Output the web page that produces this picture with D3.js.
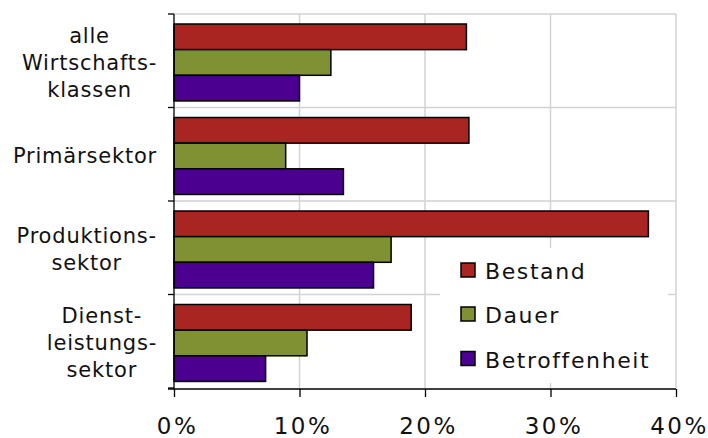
<!DOCTYPE html>
<html>
<head>
<meta charset="utf-8">
<script src="https://cdn.jsdelivr.net/npm/d3@7"></script>
<style>
  html, body { margin: 0; padding: 0; background: #fff; }
  svg { display: block; }
  text { font-family: "DejaVu Sans", Verdana, sans-serif; fill: #111; }
</style>
</head>
<body>
<svg id="chart" width="708" height="438"></svg>
<script>
// ---- data ----
const categories = ["alle Wirtschaftsklassen", "Primärsektor", "Produktionssektor", "Dienstleistungssektor"];
const categoryLines = [["alle", "Wirtschafts-", "klassen"], ["Primärsektor"], ["Produktions-", "sektor"], ["Dienst-", "leistungs-", "sektor"]];
const seriesNames = ["Bestand", "Dauer", "Betroffenheit"];
const bestand = [0.233, 0.235, 0.378, 0.189];
const dauer = [0.125, 0.089, 0.173, 0.106];
const betroffenheit = [0.100, 0.135, 0.159, 0.073];
const seriesColors = ["#a82522", "#7f9132", "#4b0090"];
const xTicks = [0, 0.1, 0.2, 0.3, 0.4];
const xTickLabels = ["0%", "10%", "20%", "30%", "40%"];

const seriesValues = [bestand, dauer, betroffenheit];

// ---- layout ----
const svg = d3.select("#chart");
const mLeft = 174, mRight = 676, mTop = 14, mBottom = 388;

const x = d3.scaleLinear().domain([0, 0.4]).range([mLeft, mRight]);
const y0 = d3.scaleBand().domain(categories).range([mTop, mBottom]).padding(0);
const step = y0.step();
const y1 = d3.scaleBand().domain(seriesNames).range([step * 0.107, step * 0.93]).padding(0);

// gridlines
const grid = svg.append("g");
grid.selectAll("line.v").data(xTicks.slice(1)).join("line")
  .attr("x1", d => x(d)).attr("x2", d => x(d))
  .attr("y1", mTop).attr("y2", mBottom)
  .attr("stroke", "#d2d2d2").attr("stroke-width", 1.5);
grid.selectAll("line.h").data(categories).join("line")
  .attr("x1", mLeft).attr("x2", mRight)
  .attr("y1", d => y0(d)).attr("y2", d => y0(d))
  .attr("stroke", "#d2d2d2").attr("stroke-width", 1.5);

// legend background (covers gridlines)
const legend = svg.append("g");
legend.append("rect").attr("x", 440).attr("y", 248).attr("width", 228).attr("height", 135).attr("fill", "#fff");

// bars
const groups = svg.append("g").selectAll("g").data(categories).join("g")
  .attr("transform", d => `translate(0,${y0(d)})`);
groups.selectAll("rect").data((d, i) => seriesNames.map((s, j) => ({ s, v: seriesValues[j][i], c: seriesColors[j] })))
  .join("rect")
  .attr("x", x(0))
  .attr("y", d => y1(d.s))
  .attr("width", d => x(d.v) - x(0))
  .attr("height", y1.bandwidth())
  .attr("fill", d => d.c)
  .attr("stroke", "#000").attr("stroke-width", 1.5);

// left axis
const yAxisG = svg.append("g");
yAxisG.append("line").attr("x1", mLeft).attr("x2", mLeft).attr("y1", mTop).attr("y2", mBottom + 1).attr("stroke", "#000").attr("stroke-width", 1.3);
const boundaries = categories.map(c => y0(c)).concat([mBottom]);
yAxisG.selectAll("line.t").data(boundaries).join("line")
  .attr("x1", mLeft - 6).attr("x2", mLeft)
  .attr("y1", d => d).attr("y2", d => d)
  .attr("stroke", "#000").attr("stroke-width", 1.3);

// bottom axis
const xAxis = d3.axisBottom(x).tickValues(xTicks).tickFormat((d, i) => xTickLabels[i]).tickSize(8).tickSizeOuter(0);
const xAxisG = svg.append("g").attr("transform", `translate(0,${mBottom + 1})`).call(xAxis);
xAxisG.select(".domain").attr("d", `M${mLeft - 6},0H${mRight}`).attr("stroke", "#000").attr("stroke-width", 1.3);
xAxisG.selectAll(".tick line").attr("stroke", "#000").attr("stroke-width", 1.3);
xAxisG.selectAll(".tick text")
  .attr("y", 45).attr("dy", null).attr("dx", 3)
  .style("font-family", "'DejaVu Sans', Verdana, sans-serif")
  .style("font-size", "23px").style("letter-spacing", "2.5px").attr("fill", "#111");

// category labels
const labelRight = 157;
categories.forEach((c, i) => {
  const lines = categoryLines[i];
  const g = svg.append("g");
  const center = y0(c) + step / 2;
  const lh = 27;
  const texts = lines.map((ln, k) => g.append("text")
    .attr("text-anchor", "middle")
    .attr("x", 0)
    .attr("y", center + 9 + (k - (lines.length - 1) / 2) * lh)
    .style("font-size", "21px").style("letter-spacing", "0.8px")
    .text(ln));
  const maxW = d3.max(texts, t => t.node().getBBox().width);
  g.attr("transform", `translate(${labelRight - maxW / 2},0)`);
});

// legend items
const legY = [263, 307, 351.5];
seriesNames.forEach((s, j) => {
  legend.append("rect").attr("x", 461).attr("y", legY[j]).attr("width", 14).attr("height", 14)
    .attr("fill", seriesColors[j]).attr("stroke", "#000").attr("stroke-width", 1.5);
  legend.append("text").attr("x", 485).attr("y", legY[j] + 16)
    .style("font-size", "22px").style("letter-spacing", "1.6px").text(s);
});
</script>
</body>
</html>
